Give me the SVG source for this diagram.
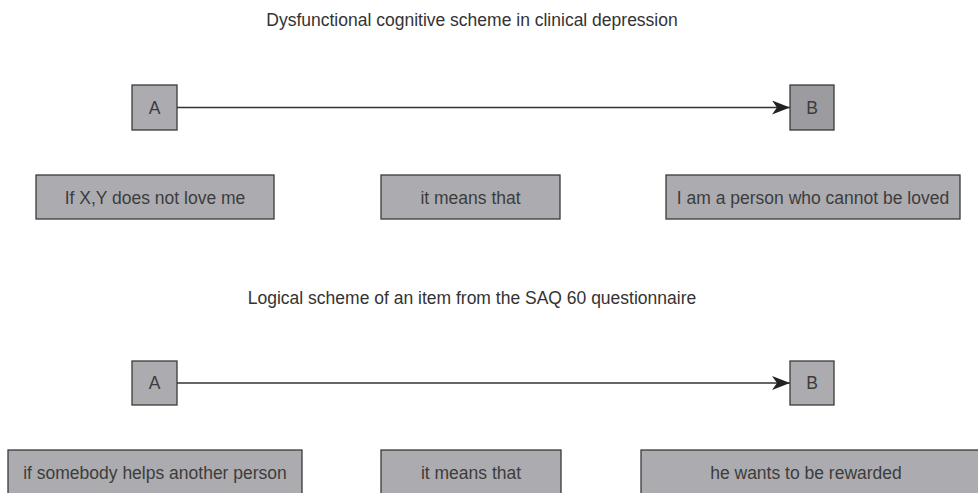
<svg xmlns="http://www.w3.org/2000/svg" width="978" height="493" viewBox="0 0 978 493">
<defs>
<style>
.box{fill:#acacb0;stroke:#3a3a3a;stroke-width:1.3}
.boxd{fill:#9c9ca0;stroke:#3a3a3a;stroke-width:1.3}
.t{font-family:"Liberation Sans",Arial,sans-serif;font-size:17.5px;fill:#3c3c3c;text-anchor:middle}
.title{font-family:"Liberation Sans",Arial,sans-serif;font-size:17.5px;fill:#333;text-anchor:middle}
.conn{stroke:#333;stroke-width:1.5;fill:none}
</style>
<marker id="arr" markerWidth="20" markerHeight="14" refX="18" refY="7" orient="auto" markerUnits="userSpaceOnUse">
<path d="M0,0 L18,7 L0,14 L5,7 Z" fill="#222"/>
</marker>
</defs>
<rect width="978" height="493" fill="#fff"/>
<text class="title" x="472" y="26">Dysfunctional cognitive scheme in clinical depression</text>
<text class="title" x="472" y="304">Logical scheme of an item from the SAQ 60 questionnaire</text>
<g id="connectors">
<line class="conn" x1="177" y1="107.5" x2="790" y2="107.5" marker-end="url(#arr)"/>
<line class="conn" x1="177" y1="383" x2="790" y2="383" marker-end="url(#arr)"/>
</g>
<g id="A1"><rect class="box" x="132" y="85" width="45" height="45"/><text class="t" x="154.5" y="113.5">A</text></g>
<g id="B1"><rect class="boxd" x="790" y="85" width="44" height="45"/><text class="t" x="812" y="113.5">B</text></g>
<g id="n1"><rect class="box" x="36" y="175" width="238" height="44"/><text class="t" x="155" y="204">If X,Y does not love me</text></g>
<g id="n2"><rect class="box" x="381" y="175" width="179" height="44"/><text class="t" x="470.5" y="204">it means that</text></g>
<g id="n3"><rect class="box" x="666" y="175" width="294" height="44"/><text class="t" x="813" y="204">I am a person who cannot be loved</text></g>
<g id="A2"><rect class="box" x="132" y="361" width="45" height="44"/><text class="t" x="154.5" y="389">A</text></g>
<g id="B2"><rect class="box" x="790" y="361" width="44" height="44"/><text class="t" x="812" y="389">B</text></g>
<g id="n4"><rect class="box" x="8" y="450" width="294" height="50"/><text class="t" x="155" y="479">if somebody helps another person</text></g>
<g id="n5"><rect class="box" x="381" y="450" width="180" height="50"/><text class="t" x="471" y="479">it means that</text></g>
<g id="n6"><rect class="box" x="641" y="450" width="345" height="50"/><text class="t" x="806" y="479">he wants to be rewarded</text></g>
</svg>
